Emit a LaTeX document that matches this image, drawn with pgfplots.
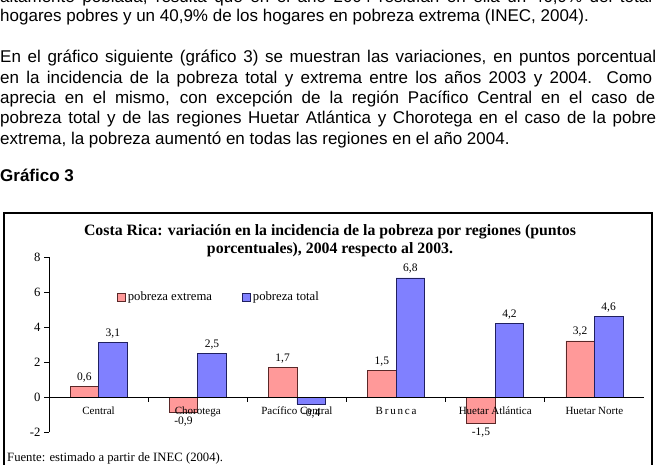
\documentclass[border=0pt]{standalone}
\usepackage{pgfplots}
\pgfplotsset{compat=1.18}
\usepackage{fontspec}
\setmainfont{Liberation Serif}
\newfontfamily\arialfont{Liberation Sans}

\definecolor{extrema}{HTML}{FF9999}
\definecolor{extremaedge}{HTML}{5A2828}
\definecolor{total}{HTML}{8080FF}
\definecolor{totaledge}{HTML}{202060}

\newcommand{\bodytext}{\arialfont\fontsize{17}{20}\selectfont}

\begin{document}
\begin{tikzpicture}[x=1pt,y=1pt]
\useasboundingbox (0,0) rectangle (656,-465);
\clip (0,0) rectangle (656,-465);

% running text of the page
\begin{scope}[every node/.style={anchor=base west, inner sep=0pt}]
\node at (0,-2.7) {\bodytext\makebox[652pt][s]{altamente poblada, resulta que en el año 2004 residían en ella un 46,9\% del total}};
\node at (0,-21.7) {\bodytext hogares pobres y un 40,9\% de los hogares en pobreza extrema (INEC, 2004).};
\node at (0,-63) {\bodytext\makebox[674pt][s]{En el gráfico siguiente (gráfico 3) se muestran las variaciones, en puntos porcentuales}};
\node at (0,-83.3) {\bodytext\makebox[652pt][s]{en la incidencia de la pobreza total y extrema entre los años 2003 y 2004.\ \ Como}};
\node at (0,-103.6) {\bodytext\makebox[655pt][s]{aprecia en el mismo, con excepción de la región Pacífico Central en el caso de}};
\node at (0,-123.9) {\bodytext\makebox[674pt][s]{pobreza total y de las regiones Huetar Atlántica y Chorotega en el caso de la pobreza}};
\node at (0,-144.2) {\bodytext extrema, la pobreza aumentó en todas las regiones en el año 2004.};
\node at (0,-182) {\bodytext\bfseries Gráfico 3};
\end{scope}

% frame of the figure
\draw[line width=1.1pt] (4,-213) rectangle (652,-480);

% chart title
\node[align=center, font=\fontsize{15.8}{18}\selectfont\bfseries] at (330,-241)
  {Costa Rica: variación en la incidencia de la pobreza por regiones (puntos\\porcentuales), 2004 respecto al 2003.};

\begin{axis}[
  at={(49pt,-432pt)}, anchor=south west,
  scale only axis, width=595pt, height=175pt,
  xmin=0, xmax=6, ymin=-2, ymax=8,
  axis y line=left, axis x line=none,
  y axis line style={-, line width=0.8pt},
  ytick={-2,0,2,4,6,8},
  tick align=outside, major tick length=5pt,
  tick style={black, line width=0.8pt},
  yticklabel style={font=\fontsize{12.7}{14}\selectfont},
  /pgf/number format/assume math mode=true,
  /pgf/number format/use comma,
  /pgf/number format/fixed,
  /pgf/number format/fixed zerofill,
  /pgf/number format/precision=1,
  yticklabel={\pgfmathprintnumber[fixed zerofill=false, precision=0]{\tick}},
  ybar=0pt, bar width=28.5pt,
  nodes near coords,
  every node near coord/.append style={font=\fontsize{11.5}{12}\selectfont, inner sep=4pt},
  legend style={at={(0.109,0.771)}, anchor=west, draw=none, fill=none,
    font=\fontsize{12.7}{14}\selectfont, legend columns=2,
    /tikz/every even column/.append style={column sep=28pt}},
  legend image code/.code={\draw[#1] (0pt,-4pt) rectangle (8pt,4pt);},
]
\addplot[fill=extrema, draw=extremaedge, line width=0.8pt] coordinates
  {(0.5,0.6) (1.5,-0.9) (2.5,1.7) (3.5,1.5) (4.5,-1.5) (5.5,3.2)};
\addplot[fill=total, draw=totaledge, line width=0.8pt] coordinates
  {(0.5,3.1) (1.5,2.5) (2.5,-0.4) (3.5,6.8) (4.5,4.2) (5.5,4.6)};
\legend{pobreza extrema, pobreza total}

% category axis at zero with boundary ticks
\draw[line width=0.8pt] (axis cs:0,0) -- (axis cs:6,0);
\pgfplotsinvokeforeach{1,...,6}{\draw[line width=0.8pt] (axis cs:#1,0) -- ([yshift=-5pt]axis cs:#1,0);}
\begin{scope}[every node/.style={font=\fontsize{11}{12}\selectfont, anchor=base, yshift=-17pt}]
\node at (axis cs:0.5,0) {Central};
\node at (axis cs:1.5,0) {Chorotega};
\node at (axis cs:2.5,0) {Pacífico Central};
\node at (axis cs:3.5,0) {B\,r\,u\,n\,c\,a};
\node at (axis cs:4.5,0) {Huetar Atlántica};
\node at (axis cs:5.5,0) {Huetar Norte};
\end{scope}
\end{axis}

\node[anchor=base west, inner sep=0pt, font=\fontsize{12.7}{14}\selectfont] at (7,-461) {Fuente: estimado a partir de INEC (2004).};
\end{tikzpicture}
\end{document}
